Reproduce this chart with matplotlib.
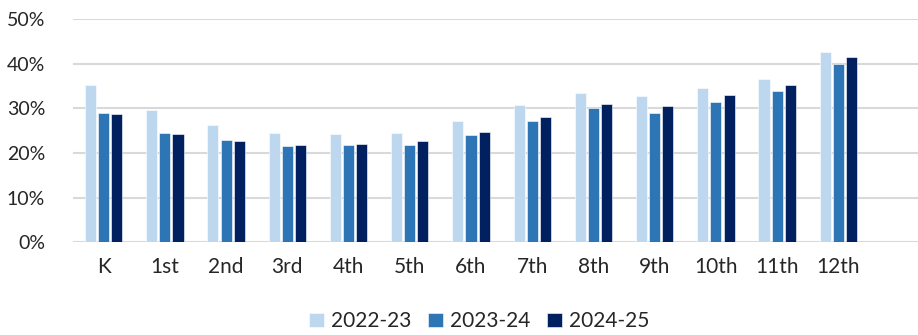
import matplotlib
matplotlib.use("Agg")
import matplotlib.pyplot as plt
import numpy as np
from matplotlib.ticker import PercentFormatter

grades = ["K", "1st", "2nd", "3rd", "4th", "5th", "6th", "7th", "8th", "9th", "10th", "11th", "12th"]
years = ["2022-23", "2023-24", "2024-25"]
rate_2022_23 = [35.3, 29.6, 26.4, 24.6, 24.3, 24.4, 27.3, 30.7, 33.5, 32.7, 34.5, 36.6, 42.7]
rate_2023_24 = [29.1, 24.6, 22.9, 21.6, 21.7, 21.7, 24.0, 27.3, 30.0, 29.1, 31.5, 33.9, 40.1]
rate_2024_25 = [28.7, 24.3, 22.6, 21.9, 22.0, 22.6, 24.7, 28.0, 31.0, 30.5, 33.0, 35.2, 41.5]
colors = ["#bdd7ee", "#2e75b6", "#002060"]

plt.rcParams["font.family"] = ["Lato", "DejaVu Sans"]

fig = plt.figure(figsize=(9.18, 3.35), dpi=100)
ax = fig.add_axes([0.0795, 0.2776, 0.9205, 0.6642])

x = np.arange(len(grades))
width = 0.18
gap = 0.035
series = [rate_2022_23, rate_2023_24, rate_2024_25]
for i, (vals, lab, c) in enumerate(zip(series, years, colors)):
    offs = (i - 1) * (width + gap)
    ax.bar(x + offs, np.array(vals) / 100, width, color=c, label=lab,
           edgecolor="white", linewidth=0.4, zorder=3)

ax.set_ylim(0, 0.5)
ax.set_xlim(-0.5, 13.3)
ax.set_yticks(np.arange(0, 0.51, 0.1))
ax.yaxis.set_major_formatter(PercentFormatter(1.0, decimals=0))
ax.set_xticks(x)
ax.set_xticklabels(grades)
ax.tick_params(axis="both", length=0, colors="#262626")
ax.tick_params(axis="y", labelsize=14, pad=20)
ax.tick_params(axis="x", labelsize=15, pad=11)
ax.grid(axis="y", color="#d9d9d9", linewidth=1.5, zorder=0)
for s in ax.spines.values():
    s.set_visible(False)

fig.legend(loc="lower center", bbox_to_anchor=(0.522, -0.045), ncol=3, frameon=False,
           fontsize=15, handlelength=0.7, handleheight=0.7, handletextpad=0.35,
           columnspacing=0.8, labelcolor="#262626")

fig.savefig("out.png", dpi=100)
